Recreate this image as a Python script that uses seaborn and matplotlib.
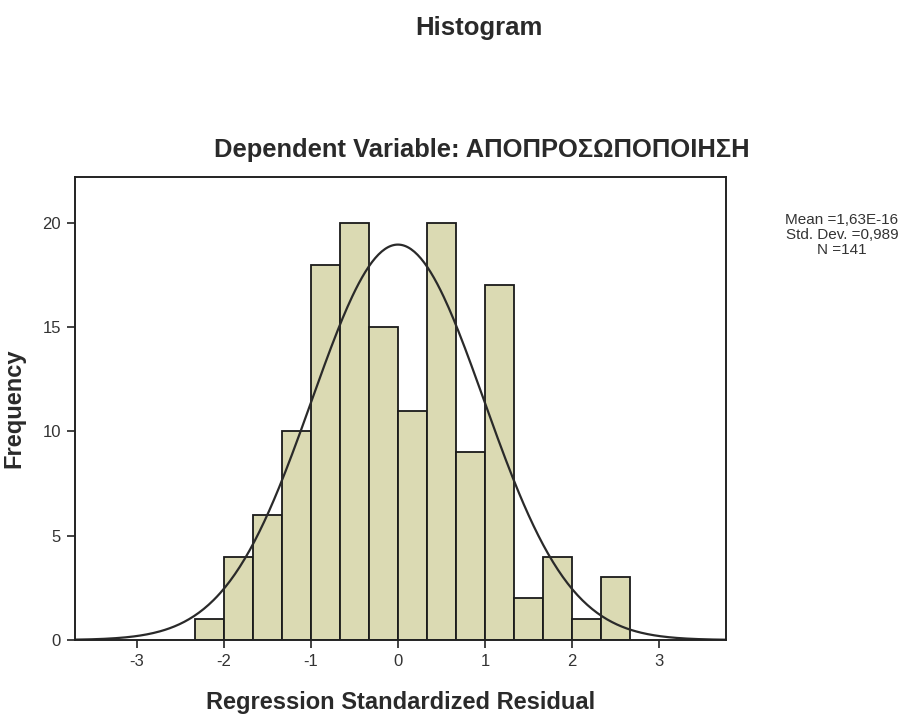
import numpy as np
import pandas as pd
import matplotlib
matplotlib.use("Agg")
import matplotlib.pyplot as plt
import seaborn as sns

# Data
bin_left_edges = [-7/3, -2, -5/3, -4/3, -1, -2/3, -1/3, 0, 1/3, 2/3, 1, 4/3, 5/3, 2, 7/3]
bin_width = 1/3
counts = [1, 4, 6, 10, 18, 20, 15, 11, 20, 9, 17, 2, 4, 1, 3]
mean_val = 1.63e-16
std_val = 0.989
n_val = 141
x_ticks = [-3, -2, -1, 0, 1, 2, 3]
y_ticks = [0, 5, 10, 15, 20]

sns.set_theme(style="white")
plt.rcParams['font.family'] = ['Liberation Sans', 'DejaVu Sans']

fig = plt.figure(figsize=(9.10, 7.17), dpi=100)
ax = fig.add_axes([75/910, 1 - 640/717, (726 - 75)/910, (640 - 177)/717])

centers = [e + bin_width / 2 for e in bin_left_edges]
edges = list(bin_left_edges) + [bin_left_edges[-1] + bin_width]
df = pd.DataFrame({"resid": centers, "count": counts})
sns.histplot(data=df, x="resid", weights="count", bins=edges, ax=ax,
             color="#dbdab3", alpha=1.0, edgecolor="#1a1a1a", linewidth=1.3)

xlo, xhi = -3.71, 3.77
xs = np.linspace(xlo, xhi, 400)
ys = n_val * bin_width * np.exp(-0.5 * ((xs - mean_val) / std_val) ** 2) / (std_val * np.sqrt(2 * np.pi))
sns.lineplot(x=xs, y=ys, ax=ax, color="#2a2a2a", linewidth=1.6)

ax.set_xlim(xlo, xhi)
ax.set_ylim(0, 22.2)
ax.set_xticks(x_ticks)
ax.set_xticklabels([str(t) for t in x_ticks])
ax.set_yticks(y_ticks)
ax.set_yticklabels([str(t) for t in y_ticks])
ax.tick_params(axis="both", direction="out", length=6, width=1.2, color="#222222",
               labelsize=12, labelcolor="#333333", bottom=True, left=True, pad=4)
for s in ax.spines.values():
    s.set_color("#222222")
    s.set_linewidth(1.4)

ax.set_xlabel("Regression Standardized Residual", fontsize=17, fontweight="bold",
              color="#2a2a2a", labelpad=16)
ax.set_ylabel("Frequency", fontsize=17, fontweight="bold", color="#2a2a2a", labelpad=12)

fig.text(479/910, 1 - 28/717, "Histogram", ha="center", va="center",
         fontsize=18.5, fontweight="bold", color="#2a2a2a")
fig.text(482/910, 1 - 150/717, "Dependent Variable: ΑΠΟΠΡΟΣΩΠΟΠΟΙΗΣΗ", ha="center", va="center",
         fontsize=18.4, fontweight="bold", color="#2a2a2a")

stats_txt = (f"Mean =1,63E-16\nStd. Dev. =0,989\nN ={n_val}")
fig.text(842/910, 1 - 235/717, stats_txt, ha="center", va="center",
         fontsize=11, color="#333333", linespacing=1.1)

fig.savefig("out.png", dpi=100)
